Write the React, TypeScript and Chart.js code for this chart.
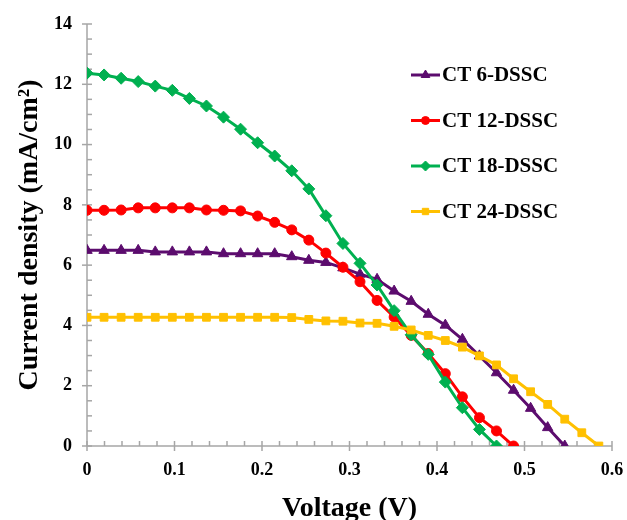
import React, { useEffect, useRef } from "react";
import { Chart, registerables } from "chart.js";
import { drawPoint } from "chart.js/helpers";

Chart.register(...registerables);

// Voltage (V) sampling grid shared by all cells
const voltage = [
  0, 0.0195, 0.039, 0.0585, 0.078, 0.0975, 0.117, 0.1365, 0.156, 0.1755,
  0.195, 0.2145, 0.234, 0.2535, 0.273, 0.2925, 0.312, 0.3315, 0.351, 0.3705,
  0.39, 0.4095, 0.429, 0.4485, 0.468, 0.4875, 0.507, 0.5265, 0.546, 0.5655, 0.585,
];

// Current density (mA/cm2)
const ct6 = [
  6.49, 6.49, 6.49, 6.49, 6.44, 6.44, 6.44, 6.44, 6.38, 6.38, 6.38, 6.38, 6.28,
  6.16, 6.09, 5.91, 5.7, 5.53, 5.14, 4.8, 4.37, 4.01, 3.54, 2.99, 2.43, 1.85,
  1.25, 0.61, 0,
];
const ct12 = [
  7.82, 7.82, 7.83, 7.9, 7.9, 7.9, 7.9, 7.83, 7.82, 7.8, 7.63, 7.42, 7.17, 6.83,
  6.4, 5.93, 5.45, 4.83, 4.28, 3.67, 3.07, 2.4, 1.63, 0.94, 0.5, 0,
];
const ct18 = [
  12.37, 12.31, 12.2, 12.09, 11.94, 11.8, 11.53, 11.28, 10.91, 10.51, 10.06,
  9.62, 9.13, 8.53, 7.64, 6.72, 6.06, 5.34, 4.49, 3.69, 3.04, 2.12, 1.27, 0.55, 0,
];
const ct24 = [
  4.27, 4.27, 4.27, 4.27, 4.27, 4.27, 4.27, 4.27, 4.27, 4.27, 4.27, 4.27, 4.26,
  4.2, 4.15, 4.14, 4.08, 4.07, 3.97, 3.85, 3.67, 3.5, 3.28, 2.99, 2.69, 2.23,
  1.8, 1.38, 0.89, 0.44, 0,
];

const seriesNames = ["CT 6-DSSC", "CT 12-DSSC", "CT 18-DSSC", "CT 24-DSSC"];
const xTicks = [0, 0.1, 0.2, 0.3, 0.4, 0.5, 0.6];
const yTicks = [0, 2, 4, 6, 8, 10, 12, 14];

const FONT = "'Liberation Serif', 'Times New Roman', serif";
const AXIS = "#a6a6a6";

const styles = [
  { color: "#5c0c6e", point: "triangle", radius: 6, legendRadius: 5 },
  { color: "#ff0000", point: "circle", radius: 5, legendRadius: 4 },
  { color: "#00b050", point: "rectRot", radius: 6, legendRadius: 5 },
  { color: "#ffc000", point: "rect", radius: 5.5, legendRadius: 4.5 },
];

const axisPlugin = {
  id: "axisPlugin",
  beforeDatasetsDraw(chart: any) {
    const { ctx, chartArea: a, scales } = chart;
    const x = scales.x;
    const y = scales.y;
    ctx.save();
    ctx.strokeStyle = AXIS;
    ctx.lineWidth = 1.5;
    const seg = (x1: number, y1: number, x2: number, y2: number) => {
      ctx.beginPath();
      ctx.moveTo(x1, y1);
      ctx.lineTo(x2, y2);
      ctx.stroke();
    };
    seg(a.left, a.top, a.left, a.bottom);
    seg(a.left, a.bottom, a.right, a.bottom);
    for (const v of xTicks) {
      const px = x.getPixelForValue(v);
      seg(px, a.bottom - 5, px, a.bottom + 5);
    }
    for (let i = 0; i <= 30; i++) {
      if (i % 5 === 0) continue;
      const px = x.getPixelForValue(i * 0.02);
      seg(px, a.bottom - 5, px, a.bottom);
    }
    for (const v of yTicks) {
      const py = y.getPixelForValue(v);
      seg(a.left - 5, py, a.left + 5, py);
    }
    for (let i = 0; i <= 28; i++) {
      if (i % 4 === 0) continue;
      const py = y.getPixelForValue(i * 0.5);
      seg(a.left, py, a.left + 5, py);
    }
    ctx.restore();
  },
};

const legendPlugin = {
  id: "insideLegend",
  afterDraw(chart: any) {
    const { ctx, chartArea: a } = chart;
    ctx.save();
    const x0 = a.left + 324;
    const x1 = a.left + 353;
    const tx = a.left + 355;
    seriesNames.forEach((name, i) => {
      const s = styles[i];
      const yy = a.top + 51 + i * 45.5;
      ctx.strokeStyle = s.color;
      ctx.lineWidth = 3;
      ctx.beginPath();
      ctx.moveTo(x0, yy);
      ctx.lineTo(x1, yy);
      ctx.stroke();
      ctx.fillStyle = s.color;
      ctx.strokeStyle = s.color;
      ctx.lineWidth = 1;
      drawPoint(
        ctx,
        { pointStyle: s.point, radius: s.legendRadius, rotation: 0, borderWidth: 1 } as any,
        (x0 + x1) / 2,
        yy
      );
      ctx.fillStyle = "#000";
      ctx.font = `bold 21px ${FONT}`;
      ctx.textAlign = "left";
      ctx.textBaseline = "middle";
      ctx.fillText(name, tx, yy + 1);
    });
    ctx.restore();
  },
};

export default function App() {
  const ref = useRef<HTMLCanvasElement | null>(null);

  useEffect(() => {
    if (!ref.current) return;
    const all = [ct6, ct12, ct18, ct24];
    const datasets = all.map((vals, i) => ({
      label: seriesNames[i],
      data: vals.map((v, j) => ({ x: voltage[j], y: v })),
      borderColor: styles[i].color,
      backgroundColor: styles[i].color,
      pointBackgroundColor: styles[i].color,
      pointBorderColor: styles[i].color,
      pointStyle: styles[i].point,
      pointRadius: styles[i].radius,
      pointBorderWidth: 1,
      borderWidth: 3,
      showLine: true,
      tension: 0,
      order: 3 - i,
    }));

    const chart = new Chart(ref.current, {
      type: "scatter",
      data: { datasets } as any,
      options: {
        animation: false,
        responsive: false,
        layout: { padding: { top: 24, right: 15, left: 0, bottom: 0 } },
        plugins: { legend: { display: false }, tooltip: { enabled: false } },
        scales: {
          x: {
            type: "linear",
            min: 0,
            max: 0.6,
            grid: { display: false, drawTicks: false },
            border: { display: false },
            afterBuildTicks: (s: any) => {
              s.ticks = xTicks.map((v) => ({ value: v }));
            },
            afterFit: (s: any) => {
              s.height = 74;
              s.paddingLeft = 0;
              s.paddingRight = 0;
            },
            ticks: {
              padding: 14,
              color: "#000",
              font: { family: FONT, size: 18, weight: "bold" },
              callback: (v: any) => String(Number(Number(v).toFixed(1))),
            },
            title: {
              display: true,
              text: "Voltage (V)",
              color: "#000",
              font: { family: FONT, size: 28, weight: "bold", lineHeight: 0.82 },
              padding: { top: 0, bottom: 0 },
            },
          },
          y: {
            type: "linear",
            min: 0,
            max: 14,
            grid: { display: false, drawTicks: false },
            border: { display: false },
            afterBuildTicks: (s: any) => {
              s.ticks = yTicks.map((v) => ({ value: v }));
            },
            afterFit: (s: any) => {
              s.width = 87;
              s.paddingTop = 0;
              s.paddingBottom = 0;
            },
            ticks: {
              padding: 15,
              color: "#000",
              font: { family: FONT, size: 18, weight: "bold" },
              callback: (v: any) => String(v),
            },
            title: {
              display: true,
              text: "Current density (mA/cm²)",
              color: "#000",
              font: { family: FONT, size: 28, weight: "bold", lineHeight: 1 },
              padding: { top: 16, bottom: 0 },
            },
          },
        },
      },
      plugins: [axisPlugin, legendPlugin],
    } as any);
    return () => chart.destroy();
  }, []);

  return (
    <div style={{ position: "fixed", left: 0, top: 0, width: 627, height: 520, background: "#fff" }}>
      <canvas ref={ref} width={627} height={520} style={{ display: "block" }} />
    </div>
  );
}
